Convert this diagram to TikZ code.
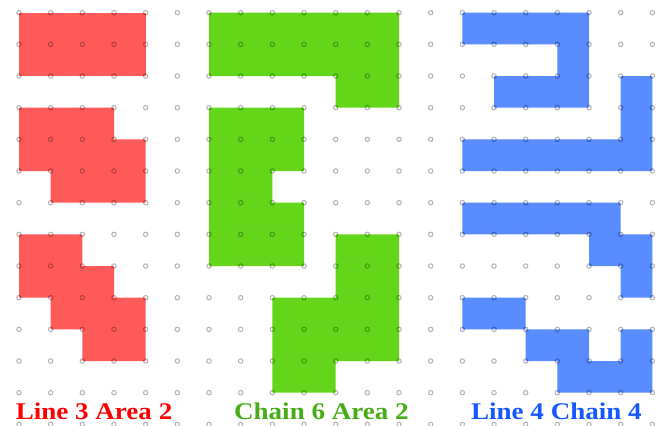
\documentclass[tikz,border=0pt]{standalone}
\usepackage{fontspec}
\setmainfont{Liberation Serif}
\usepackage{graphicx}
\usetikzlibrary{positioning}

\definecolor{redfill}{RGB}{255,90,90}
\definecolor{greenfill}{RGB}{100,214,26}
\definecolor{bluefill}{RGB}{88,140,255}
\definecolor{redtext}{RGB}{250,0,0}
\definecolor{greentext}{RGB}{72,172,22}
\definecolor{bluetext}{RGB}{22,88,255}

\tikzset{
	griddot/.style={draw=black, opacity=0.3, line width=0.9pt},
	caption/.style={anchor=base, font=\bfseries\fontsize{21.5}{24}\selectfont, inner sep=0pt}
}
\newcommand{\wide}[1]{\scalebox{1.13}[1]{#1}}

\begin{document}
\begin{tikzpicture}[y=-1cm]
			\useasboundingbox (-0.6,-0.4) rectangle (20.21,13.05);
			
			%Red shapes
			\fill[redfill] (0,0) rectangle (4,2);
			\fill[redfill] (0,3) -- (3,3) -- (3,4) -- (4,4) -- (4,6) -- (1,6) -- (1,5) -- (0,5) -- cycle;
			\fill[redfill] (0,7) -- (2,7) -- (2,8) -- (3,8) -- (3,9) -- (4,9) -- (4,11) -- (2,11) 
			-- (2,10) -- (1,10) -- (1,9) -- (0,9) -- cycle;
			
			%Green shapes
			\fill[greenfill] (6,0) -- (12,0) -- (12,3) -- (10,3) -- (10,2) -- (6,2) -- cycle;
			\fill[greenfill] (6,3) -- (9,3) -- (9,5) -- (8,5) -- (8,6) -- (9,6) -- (9,8) -- (6,8) -- cycle;
			\fill[greenfill] (10,7) -- (12,7) -- (12,11) -- (10,11) -- (10,12) -- (8,12) -- (8,9) 
			-- (10,9) -- cycle;
			
			%Blue shapes
			\fill[bluefill] (14,0) -- (18,0) -- (18,3) -- (15,3) -- (15,2) -- (17,2) -- (17,1) -- (14,1) -- cycle;
			\fill[bluefill] (19,2) -- (20,2) -- (20,5) -- (14,5) -- (14,4) -- (19,4) -- cycle;
			\fill[bluefill] (14,6) -- (19,6) -- (19,7) -- (20,7) -- (20,9) -- (19,9) -- (19,8) -- (18,8) 
			-- (18,7) -- (14,7) -- cycle;
			\fill[bluefill] (14,9) -- (16,9) -- (16,10) -- (18,10) -- (18,11) -- (19,11) -- (19,10) 
			-- (20,10) -- (20,12) -- (17,12) -- (17,11) -- (16,11) -- (16,10) -- (14,10) -- cycle;
			
			%Dots
			\foreach \i in {0,...,20}
				\foreach \j in {0,...,13}
					\draw[griddot] (\i,\j) circle (0.07);
			
			%Labels
			\node (redlabel) at (2.37,12.84) [caption, text=redtext]{\wide{Line 3 Area 2}};
			\node (greenlabel) at (9.55,12.84) [caption, text=greentext]{\wide{Chain 6 Area 2}};
			\node (bluelabel) at (16.97,12.84) [caption, text=bluetext]{\wide{Line 4 Chain 4}};
			
\end{tikzpicture}
\end{document}
